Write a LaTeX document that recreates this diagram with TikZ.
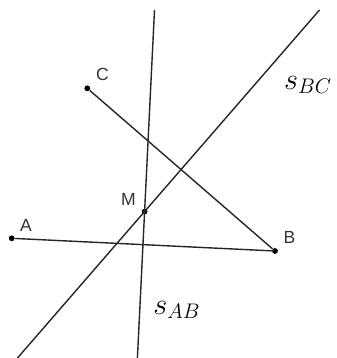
\documentclass[tikz,border=0pt]{standalone}
\usepackage{fontspec}
\newfontfamily\labelfont{Liberation Sans}
\usepackage{tikz}
\definecolor{linegray}{gray}{0.15}
\definecolor{labelgray}{gray}{0.2}
\tikzset{
  pointdot/.style={circle, fill=black, inner sep=0pt, minimum size=3.3pt},
  ptlabel/.style={font=\labelfont\fontsize{10}{11}\selectfont, text=labelgray, inner sep=0pt},
  seglabel/.style={font=\fontsize{17.5}{20}\selectfont, inner sep=0pt},
  segline/.style={draw=linegray, line width=0.8pt},
  bisline/.style={draw=linegray, line width=0.8pt}
}
\begin{document}
\begin{tikzpicture}[x=0.02cm, y=-0.02cm]
  \useasboundingbox (0,0) rectangle (337,358);
  % triangle corners and circumcenter
  \node[pointdot] (A) at (11.7,238.3) {};
  \node[pointdot] (B) at (275,251) {};
  \node[pointdot] (C) at (87.3,88.3) {};
  \node[pointdot] (M) at (144.6,211.6) {};

  % ends of the perpendicular bisectors
  \coordinate (ab top) at (154.5,10);
  \coordinate (ab bot) at (137.4,358);
  \coordinate (bc top) at (319.5,10);
  \coordinate (bc bot) at (17.5,358);

  \draw[segline] (A)--(B);
  \draw[segline] (C)--(B);
  \draw[bisline] (ab top)--(ab bot);
  \draw[bisline] (bc top)--(bc bot);

  \node[ptlabel] (lA) at (26,225) {A};
  \node[ptlabel] (lB) at (289.5,237) {B};
  \node[ptlabel] (lC) at (102.5,74) {C};
  \node[ptlabel] (lM) at (128.5,199) {M};
  \node[seglabel] (lbc) at (308,85) {$s_{BC}$};
  \node[seglabel] (lab) at (177,310) {$s_{AB}$};
\end{tikzpicture}
\end{document}
